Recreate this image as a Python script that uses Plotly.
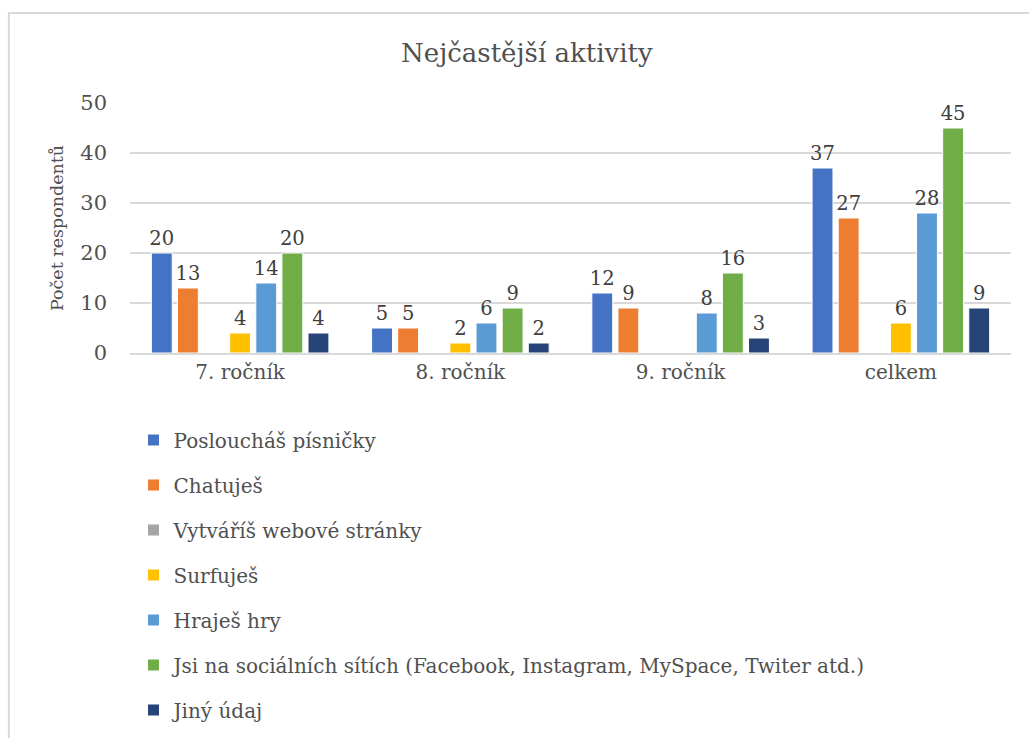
import plotly.graph_objects as go

categories = ["7. ročník", "8. ročník", "9. ročník", "celkem"]

series_names = [
    "Posloucháš písničky",
    "Chatuješ",
    "Vytváříš webové stránky",
    "Surfuješ",
    "Hraješ hry",
    "Jsi na sociálních sítích (Facebook, Instagram, MySpace, Twiter atd.)",
    "Jiný údaj",
]

posloucha = [20, 5, 12, 37]
chatuje = [13, 5, 9, 27]
web = [None, None, None, None]
surfuje = [4, 2, None, 6]
hry = [14, 6, 8, 28]
site = [20, 9, 16, 45]
jiny = [4, 2, 3, 9]

values = [posloucha, chatuje, web, surfuje, hry, site, jiny]
colors = ["#4472C4", "#ED7D31", "#A5A5A5", "#FFC000", "#5B9BD5", "#70AD47", "#264478"]

ff = "DejaVu Serif"
txt_color = "#505050"
lbl_color = "#404040"

fig = go.Figure()
for i, (name, vals) in enumerate(zip(series_names, values)):
    fig.add_trace(go.Bar(
        x=categories,
        y=vals,
        name=name,
        legendgroup=str(i),
        marker=dict(color=colors[i], line=dict(color="white", width=1)),
        text=[("" if v is None else str(v)) for v in vals],
        textposition="outside",
        constraintext="none",
        textfont=dict(family=ff, size=19.5, color=lbl_color),
        cliponaxis=False,
    ))

# chart border like the Excel chart area
fig.add_shape(type="rect", xref="paper", yref="paper",
              x0=-0.1375, x1=1.05, y0=-2.0, y1=1.36,
              line=dict(color="#D9D9D9", width=2), fillcolor="rgba(0,0,0,0)",
              layer="below")

fig.update_layout(
    width=1029, height=738,
    margin=dict(l=130, r=18, t=103, b=385, autoexpand=False),
    paper_bgcolor="white",
    plot_bgcolor="white",
    barmode="group",
    bargap=0.17,
    bargroupgap=0.2,
    title=dict(text="Nejčastější aktivity", x=0.512, xref="container", xanchor="center",
               y=0.928, yref="container", yanchor="middle",
               font=dict(family=ff, size=26, color=txt_color)),
    font=dict(family=ff, color=txt_color),
    showlegend=True,
    legend=dict(orientation="v", x=0.004, xanchor="left", y=-0.27, yanchor="top",
                font=dict(family=ff, size=20, color=txt_color),
                tracegroupgap=16, itemwidth=30, bgcolor="rgba(0,0,0,0)"),
)

fig.update_xaxes(automargin=False, showline=True, linecolor="#D9D9D9", linewidth=2, ticks="",
                 tickfont=dict(family=ff, size=20, color=txt_color))
fig.update_yaxes(automargin=False, range=[0, 50], dtick=10, showgrid=True,
                 gridcolor="#D9D9D9", gridwidth=2,
                 zeroline=False, showline=False, ticks="", ticklabelstandoff=22,
                 tickfont=dict(family=ff, size=21, color=txt_color),
                 title=dict(text="Počet respondentů", standoff=12,
                            font=dict(family=ff, size=17.5, color=txt_color)))

fig.write_html("out.html", config={"displayModeBar": False},
               post_script="document.body.style.margin='0';")
